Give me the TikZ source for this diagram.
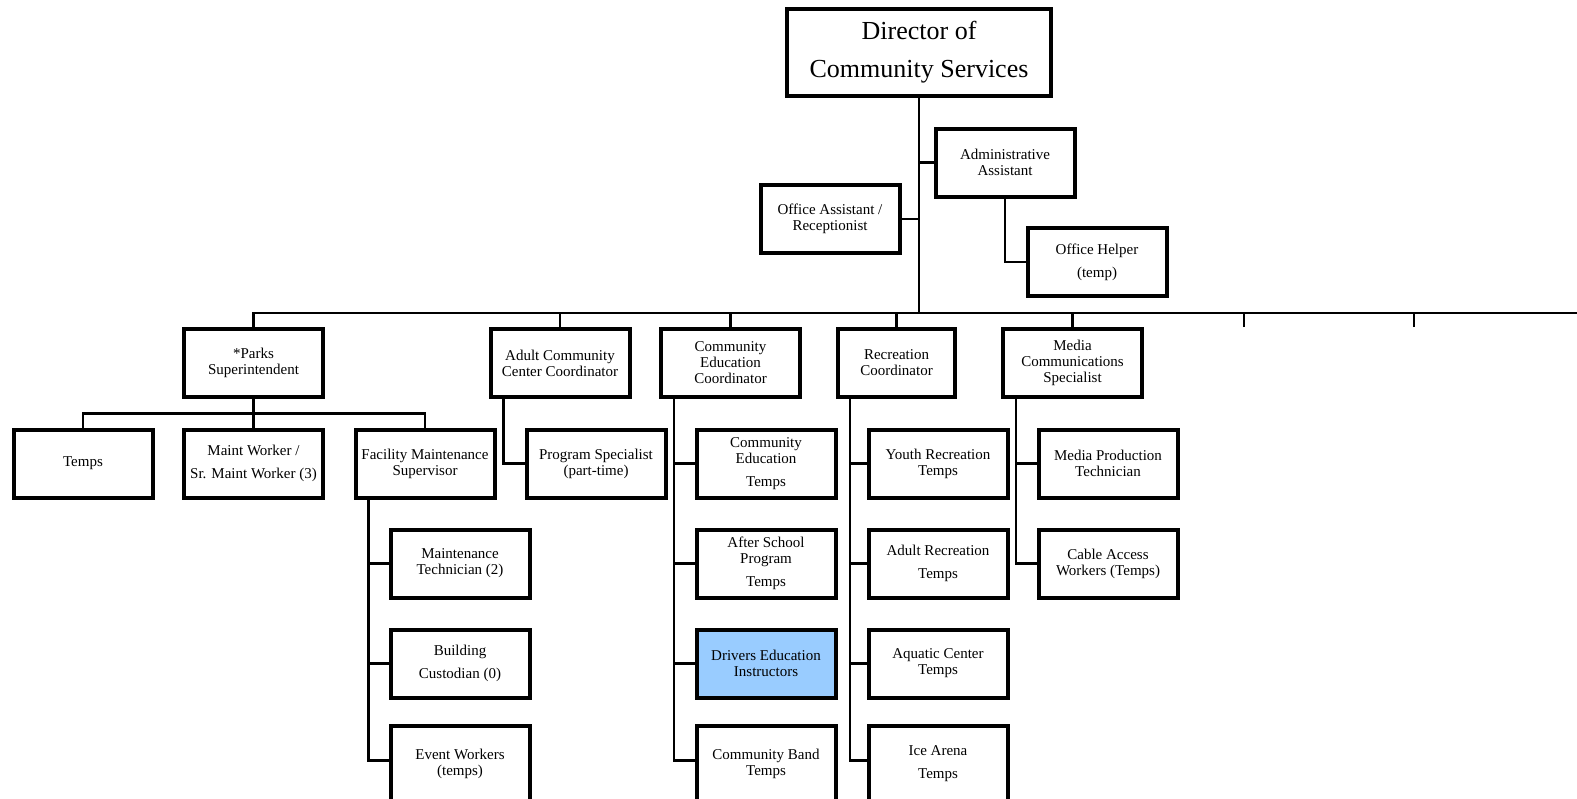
\documentclass[tikz,border=0pt]{standalone}
\usepackage{fontspec}
\setmainfont{Liberation Serif}
\usepackage{tikz}
\definecolor{skyfill}{HTML}{99CCFF}

\begin{document}
\begin{tikzpicture}[x=0.5pt,y=-0.5pt,node distance=50pt,line width=1.2pt]
  \tikzstyle{box}=[draw,line width=2pt,minimum width=69.5pt,minimum height=34pt,
    inner sep=0pt,align=center,font=\fontsize{7.5}{8}\selectfont]
  \tikzstyle{tail}=[minimum height=38pt]

  \useasboundingbox (0,0) rectangle (1577,798);
  \clip (0,0) rectangle (1577,798);

  % top
  \node[box,minimum width=132pt,minimum height=43.5pt,
    font=\fontsize{13}{19}\selectfont] (dir) at (919,52.5) {Director of\\Community Services};
  \node[box] (admin)   at (1005,162.5) {Administrative\\Assistant};
  \node[box] (offasst) at (830,219)    {Office Assistant /\\Receptionist};
  \node[box] (helper)  at (1097,262)   {Office Helper\\[3.5pt](temp)};

  % divisions
  \node[box] (parks) at (253.5,363) {*Parks\\Superintendent};
  \node[box] (adult) at (560,363)   {Adult Community\\Center Coordinator};
  \node[box] (cec)   at (730.5,363) {Community\\Education\\Coordinator};
  \node[box,minimum width=58.5pt] (rec) at (896.5,363) {Recreation\\Coordinator};
  \node[box] (media) at (1072.5,363) {Media\\Communications\\Specialist};

  % parks
  \node[box] (temps) at (83,463.5)    {Temps};
  \node[box] (maint) at (253.5,463.5) {Maint Worker /\\[3.5pt]Sr. Maint Worker (3)};
  \node[box] (fms)   at (425,463.5)   {Facility Maintenance\\Supervisor};
  \node[box] (mtech) at (460,563.5)   {Maintenance\\Technician (2)};
  \node[box] (bldg)  [below of=mtech] {Building\\[3.5pt]Custodian (0)};
  \node[box,tail] (event) [below of=bldg] {Event Workers\\(temps)};

  % adult community center
  \node[box] (progspec) at (596,463.5) {Program Specialist\\(part-time)};

  % community education
  \node[box] (cetemps) at (766,463.5)     {Community\\Education\\[3.5pt]Temps};
  \node[box] (after)   [below of=cetemps] {After School\\Program\\[3.5pt]Temps};
  \node[box,fill=skyfill] (drivers) [below of=after] {Drivers Education\\Instructors};
  \node[box,tail] (band) [below of=drivers] {Community Band\\Temps};

  % recreation
  \node[box] (youth)    at (938,463.5)     {Youth Recreation\\Temps};
  \node[box] (adultrec) [below of=youth]   {Adult Recreation\\[3.5pt]Temps};
  \node[box] (aquatic)  [below of=adultrec] {Aquatic Center\\Temps};
  \node[box,tail] (ice) [below of=aquatic] {Ice Arena\\[3.5pt]Temps};

  % media
  \node[box] (mprod) at (1108,463.5)  {Media Production\\Technician};
  \node[box] (cable) [below of=mprod] {Cable Access\\Workers (Temps)};

  % bus
  \coordinate (busend) at (1577,313);
  \coordinate (tickA) at (1244,327);
  \coordinate (tickB) at (1414,327);
  \draw (dir.south) -- (dir.south |- busend);
  \draw (parks.north) |- (busend);
  \draw (adult.north) -- (adult.north |- busend);
  \draw (cec.north) -- (cec.north |- busend);
  \draw (rec.north) -- (rec.north |- busend);
  \draw (media.north) -- (media.north |- busend);
  \draw (tickA) -- (tickA |- busend);
  \draw (tickB) -- (tickB |- busend);

  % staff
  \draw (admin.west) -- (admin.west -| dir.south);
  \draw (offasst.east) -- (offasst.east -| dir.south);
  \draw (admin.south) |- (helper.west);

  % reports
  \draw (parks.south) -- (maint.north);
  \draw (temps.north) -- ++(0,-14) -| (fms.north);
  \draw ([xshift=7.5pt]fms.south west) |- (mtech.west);
  \draw ([xshift=7.5pt]fms.south west) |- (bldg.west);
  \draw ([xshift=7.5pt]fms.south west) |- ([yshift=1.5pt]event.west);
  \draw ([xshift=7.5pt]adult.south west) |- (progspec.west);
  \draw ([xshift=7.5pt]cec.south west) |- (cetemps.west);
  \draw ([xshift=7.5pt]cec.south west) |- (after.west);
  \draw ([xshift=7.5pt]cec.south west) |- (drivers.west);
  \draw ([xshift=7.5pt]cec.south west) |- ([yshift=1.5pt]band.west);
  \draw ([xshift=7pt]rec.south west) |- (youth.west);
  \draw ([xshift=7pt]rec.south west) |- (adultrec.west);
  \draw ([xshift=7pt]rec.south west) |- (aquatic.west);
  \draw ([xshift=7pt]rec.south west) |- ([yshift=1.5pt]ice.west);
  \draw ([xshift=7.5pt]media.south west) |- (mprod.west);
  \draw ([xshift=7.5pt]media.south west) |- (cable.west);
\end{tikzpicture}
\end{document}
